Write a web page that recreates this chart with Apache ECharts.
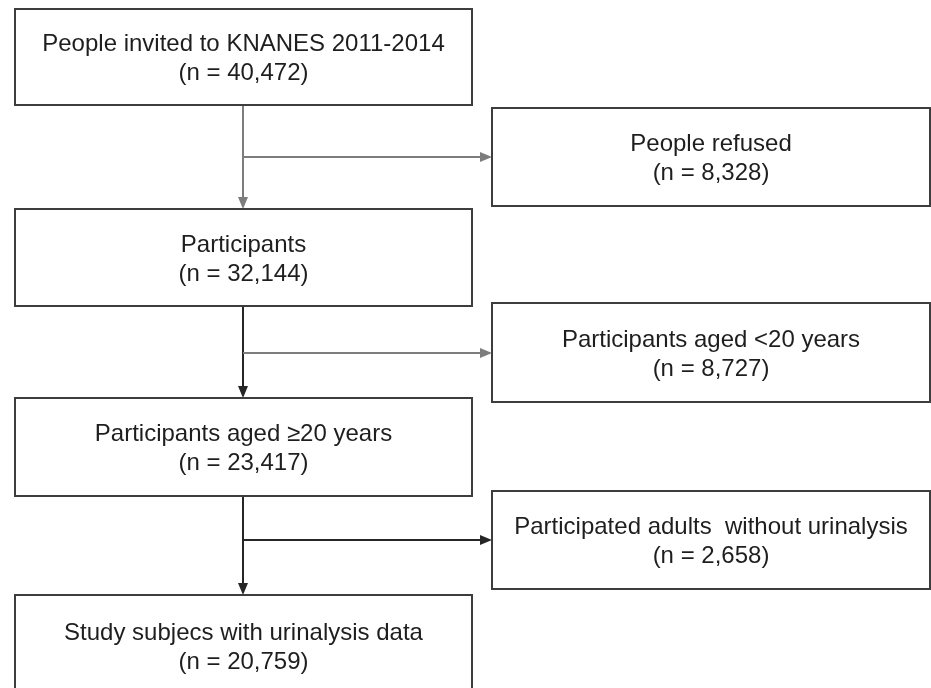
<!DOCTYPE html>
<html>
<head>
<meta charset="utf-8">
<script src="https://cdn.jsdelivr.net/npm/echarts@6/dist/echarts.min.js"></script>
<style>
  html, body { margin: 0; padding: 0; background: #fff; }
  #chart { width: 931px; height: 688px; }
</style>
</head>
<body>
<div id="chart"></div>
<script>
// flow steps (left column) and exclusions (right column)
const mainSteps = [
  "People invited to KNANES 2011-2014",
  "Participants",
  "Participants aged \u226520 years",
  "Study subjecs with urinalysis data"
];
const mainCounts = [40472, 32144, 23417, 20759];

const exclusionSteps = [
  "People refused",
  "Participants aged <20 years",
  "Participated adults  without urinalysis"
];
const exclusionCounts = [8328, 8727, 2658];

// layout, in page pixels (axes run 0..931 / 0..688)
const leftCol = [15, 472];
const rightCol = [492, 930];
const mainTop = [9, 209, 398, 595];
const mainBottom = [105, 306, 496, 696];
const exclTop = [108, 303, 491];
const exclBottom = [206, 402, 589];
const stemX = 243;
const branchY = [157, 353, 540];

const gray = "#7d7d7d";
const dark = "#262626";
const stemColors = [gray, dark, dark];
const branchColors = [gray, gray, dark];

const fmt = n => n.toLocaleString("en-US");

const boxLabels = [];
const boxData = [];
mainSteps.forEach((s, i) => {
  boxLabels.push(s + "\n(n = " + fmt(mainCounts[i]) + ")");
  boxData.push([leftCol[0], mainTop[i], leftCol[1], mainBottom[i]]);
});
exclusionSteps.forEach((s, i) => {
  boxLabels.push(s + "\n(n = " + fmt(exclusionCounts[i]) + ")");
  boxData.push([rightCol[0], exclTop[i], rightCol[1], exclBottom[i]]);
});

const arrowData = [];
const arrowColors = [];
for (let i = 0; i < 3; i++) {
  arrowData.push([stemX, mainBottom[i], stemX, mainTop[i + 1]]);
  arrowColors.push(stemColors[i]);
  arrowData.push([stemX, branchY[i], rightCol[0], branchY[i]]);
  arrowColors.push(branchColors[i]);
}

const chart = echarts.init(document.getElementById("chart"));

chart.setOption({
  animation: false,
  grid: { left: 0, right: 0, top: 0, bottom: 0 },
  xAxis: { type: "value", min: 0, max: 931, show: false },
  yAxis: { type: "value", min: 0, max: 688, inverse: true, show: false },
  series: [
    {
      type: "custom",
      coordinateSystem: "cartesian2d",
      data: arrowData,
      z: 1,
      renderItem: (params, api) => {
        const a = api.coord([api.value(0), api.value(1)]);
        const b = api.coord([api.value(2), api.value(3)]);
        const color = arrowColors[params.dataIndex];
        const vertical = Math.abs(a[0] - b[0]) < 1;
        const len = 12, half = 5;
        let head, end;
        if (vertical) {
          end = [b[0], b[1] - len];
          head = [[b[0] - half, b[1] - len], [b[0] + half, b[1] - len], [b[0], b[1]]];
        } else {
          end = [b[0] - len, b[1]];
          head = [[b[0] - len, b[1] - half], [b[0] - len, b[1] + half], [b[0], b[1]]];
        }
        return {
          type: "group",
          children: [
            { type: "line", shape: { x1: a[0], y1: a[1], x2: end[0], y2: end[1] },
              style: { stroke: color, lineWidth: 2 } },
            { type: "polygon", shape: { points: head }, style: { fill: color } }
          ]
        };
      }
    },
    {
      type: "custom",
      coordinateSystem: "cartesian2d",
      data: boxData,
      z: 2,
      renderItem: (params, api) => {
        const p0 = api.coord([api.value(0), api.value(1)]);
        const p1 = api.coord([api.value(2), api.value(3)]);
        return {
          type: "group",
          children: [
            { type: "rect",
              shape: { x: p0[0], y: p0[1], width: p1[0] - p0[0], height: p1[1] - p0[1] },
              style: { fill: "#fff", stroke: "#3d3d3d", lineWidth: 2 } },
            { type: "text",
              style: {
                text: boxLabels[params.dataIndex],
                x: (p0[0] + p1[0]) / 2,
                y: (p0[1] + p1[1]) / 2 + 2,
                align: "center",
                verticalAlign: "middle",
                font: '24px "Liberation Sans", Arial, sans-serif',
                lineHeight: 29,
                fill: "#1e1e1e"
              } }
          ]
        };
      }
    }
  ]
});
</script>
</body>
</html>
